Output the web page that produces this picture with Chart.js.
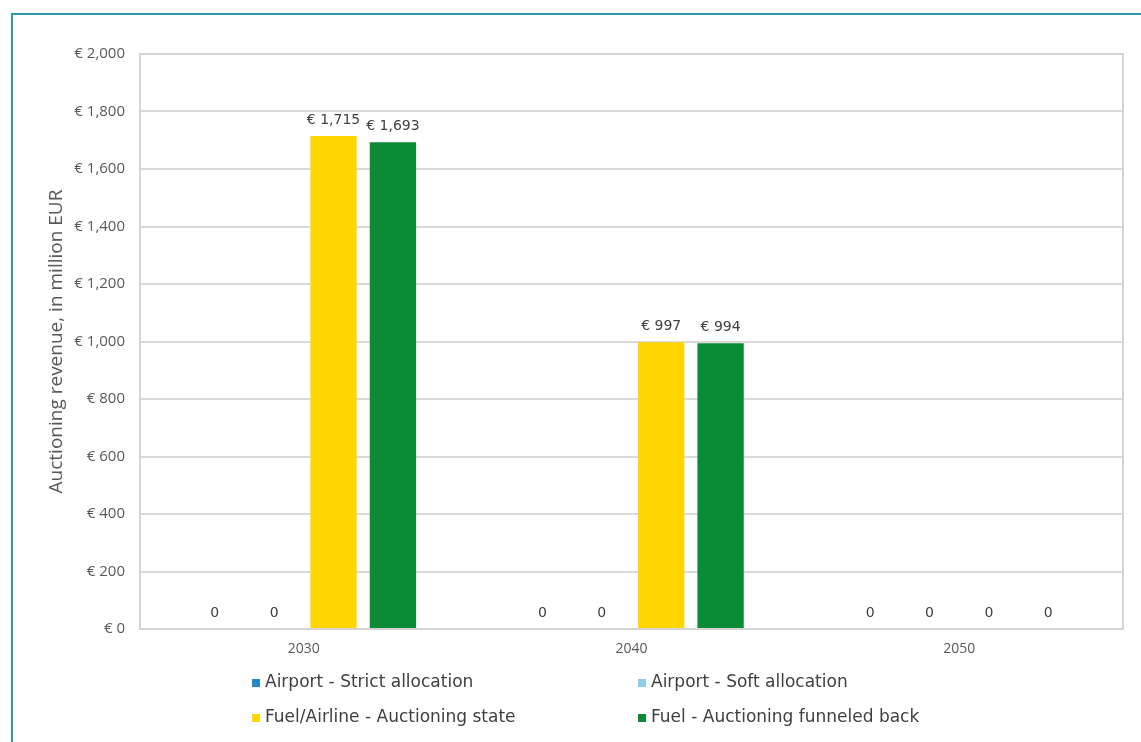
<!DOCTYPE html>
<html>
<head>
<meta charset="utf-8">
<script src="https://cdn.jsdelivr.net/npm/chart.js@4.4.1/dist/chart.umd.min.js"></script>
<style>
  html, body { margin: 0; padding: 0; background: #fff; }
  #wrap { position: relative; width: 1141px; height: 742px; }
  #frame { position: absolute; left: 11px; top: 13px; right: -5px; bottom: -5px;
           border-top: 2px solid #2a9ea3; border-left: 2px solid #2a9ea3; pointer-events: none; }
</style>
</head>
<body>
<div id="wrap">
  <canvas id="chart" width="1141" height="742"></canvas>
  <div id="frame"></div>
</div>
<script>
// data
const categories = ['2030', '2040', '2050'];
const seriesNames = [
  'Airport - Strict allocation',
  'Airport - Soft allocation',
  'Fuel/Airline - Auctioning state',
  'Fuel - Auctioning funneled back'
];
const strictAlloc = [0, 0, 0];
const softAlloc = [0, 0, 0];
const auctionState = [1715, 997, 0];
const fundedBack = [1693, 994, 0];
const yTicks = [0, 200, 400, 600, 800, 1000, 1200, 1400, 1600, 1800, 2000];

const colors = ['#1f8ad0', '#8ccfe6', '#ffd600', '#0b8b35'];
const seriesValues = [strictAlloc, softAlloc, auctionState, fundedBack];

const euro = v => '€ ' + Number(v).toLocaleString('en-US');

// value labels above each bar
const barLabels = {
  id: 'barLabels',
  afterDatasetsDraw(chart) {
    const ctx = chart.ctx;
    ctx.save();
    ctx.font = '14px "DejaVu Sans"';
    ctx.fillStyle = '#404040';
    ctx.textAlign = 'center';
    ctx.textBaseline = 'bottom';
    chart.data.datasets.forEach((ds, i) => {
      chart.getDatasetMeta(i).data.forEach((bar, j) => {
        const v = ds.data[j];
        ctx.fillText(v === 0 ? '0' : euro(v), bar.x, bar.y - 9);
      });
    });
    ctx.restore();
  }
};

// plot box + two-column legend
const frameAndLegend = {
  id: 'frameAndLegend',
  afterDraw(chart) {
    const ctx = chart.ctx;
    const a = chart.chartArea;
    ctx.save();
    ctx.strokeStyle = '#d4d4d4';
    ctx.lineWidth = 2;
    ctx.strokeRect(a.left, a.top, a.right - a.left, a.bottom - a.top);

    ctx.font = '17px "DejaVu Sans"';
    ctx.textBaseline = 'middle';
    ctx.textAlign = 'left';
    const cols = [252, 638];
    const rows = [683, 718];
    chart.data.datasets.forEach((ds, i) => {
      const x = cols[i % 2], y = rows[Math.floor(i / 2)];
      ctx.fillStyle = ds.backgroundColor;
      ctx.fillRect(x, y - 4, 8, 8);
      ctx.fillStyle = '#404040';
      ctx.fillText(ds.label, x + 13, y);
    });
    ctx.restore();
  }
};

function draw() {
  new Chart(document.getElementById('chart'), {
    type: 'bar',
    data: {
      labels: categories,
      datasets: seriesNames.map((name, i) => ({
        label: name,
        data: seriesValues[i],
        backgroundColor: colors[i],
        categoryPercentage: 0.725,
        barPercentage: 0.78
      }))
    },
    options: {
      responsive: false,
      animation: false,
      layout: { padding: { left: 12, top: 54, right: 18, bottom: 73 } },
      plugins: {
        legend: { display: false },
        tooltip: { enabled: false }
      },
      scales: {
        x: {
          grid: { display: false },
          border: { display: false },
          ticks: { color: '#595959', font: { family: 'Open Sans', size: 14 }, padding: 4 },
          afterFit(scale) { scale.height = 40; }
        },
        y: {
          min: 0,
          max: 2000,
          afterBuildTicks(scale) { scale.ticks = yTicks.map(v => ({ value: v })); },
          grid: { color: '#d9d9d9', lineWidth: 2, drawTicks: false },
          border: { display: false },
          ticks: {
            color: '#595959',
            font: { family: 'Open Sans', size: 15 },
            padding: 15,
            callback: v => euro(v)
          },
          title: {
            display: true,
            text: 'Auctioning revenue, in million EUR',
            color: '#595959',
            font: { family: 'Open Sans', size: 19 },
            padding: { top: 33, bottom: 0 }
          },
          afterFit(scale) { scale.width = 128; }
        }
      }
    },
    plugins: [barLabels, frameAndLegend]
  });
}

Promise.all([
  document.fonts.load('16px "DejaVu Sans"'),
  document.fonts.load('15px "Open Sans"')
]).then(draw, draw);
</script>
</body>
</html>
